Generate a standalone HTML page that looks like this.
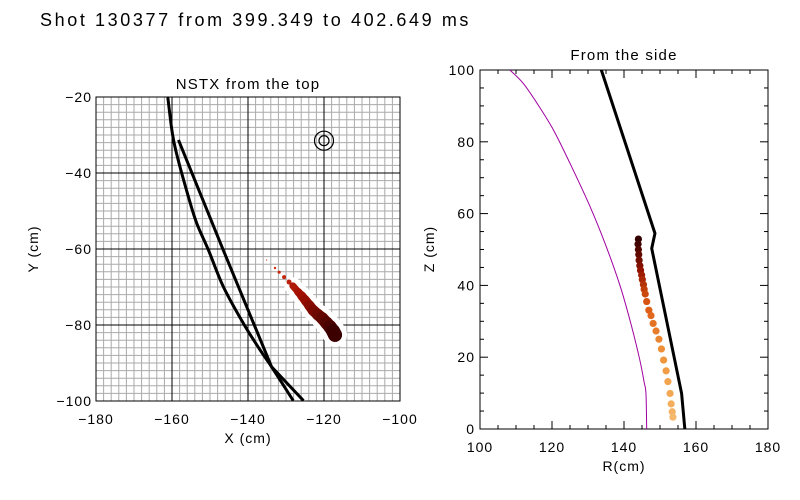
<!DOCTYPE html>
<html><head><meta charset="utf-8"><style>
body{margin:0;background:#fff;}
svg{display:block;font-family:"Liberation Sans",sans-serif;}
</style></head><body>
<svg id="c" width="800" height="500" viewBox="0 0 800 500" xmlns="http://www.w3.org/2000/svg">
<text x="40" y="26" font-size="18" letter-spacing="2.6" fill="#000">Shot 130377 from 399.349 to 402.649 ms</text>
<text x="248" y="89" font-size="15" letter-spacing="1.2" text-anchor="middle">NSTX from the top</text>
<text x="624" y="60" font-size="15" letter-spacing="1.2" text-anchor="middle">From the side</text>
<text x="248" y="443" font-size="14" letter-spacing="1" text-anchor="middle">X (cm)</text>
<text transform="translate(38,249) rotate(-90)" font-size="14" letter-spacing="1" text-anchor="middle">Y (cm)</text>
<text x="624" y="471" font-size="14" letter-spacing="1" text-anchor="middle">R(cm)</text>
<text transform="translate(434,249) rotate(-90)" font-size="14" letter-spacing="1" text-anchor="middle">Z (cm)</text>
<g id="left"></g><g id="right"></g>
</svg>
<script>
// ---- top view data ----
const topXTicks=[-180,-160,-140,-120,-100];
const topYTicks=[-20,-40,-60,-80,-100];
const wallOuterX=[-161.1,-159.9,-158.6,-155.7,-153.5,-150.4,-146.5,-141.2,-136.8,-133.8,-128.1];
const wallOuterY=[-20.1,-29.6,-35.7,-46.2,-53.2,-60.3,-69.9,-79.6,-86.6,-91,-99.9];
const wallInnerX=[-158.3,-146.5,-133.8,-125.4];
const wallInnerY=[-31.3,-60.3,-91,-99.9];
const targetX=[-120];
const targetY=[-31.5];
const blobX=[-135.1,-132.9,-131.8,-130.5,-129.2,-128.2,-126.8,-125.9,-125.0,-123.9,-122.9,-121.7,-120.5,-119.4,-118.4,-117.6,-117.1];
const blobY=[-62.9,-65.0,-66.1,-67.4,-68.7,-69.7,-71.3,-72.3,-73.4,-74.8,-76.1,-77.2,-78.2,-79.4,-80.5,-81.6,-82.6];
const blobR=[0.6,1.2,1.6,2,2.5,3,3.5,4,4.5,4.8,5.2,5.5,5.8,6.1,6.4,6.7,7];
// ---- side view data ----
const sideRTicks=[100,120,140,160,180];
const sideZTicks=[0,20,40,60,80,100];
const coilR=[133.7,148.6,147.7,153.7,156.0,156.9];
const coilZ=[100,54.5,50.3,21.1,9.9,0];
const sepR=[108.3,112,116,120.4,125,130.6,135,139,142,144.4,145.6,146.1,146.3];
const sepZ=[100,96.3,90.5,83.3,74,61.9,51,39.6,29,19.2,13,9.9,0];
const dotR=[144.0,143.9,144.0,144.1,144.2,144.4,144.6,144.9,145.1,145.4,145.6,145.9,146.3,146.9,147.5,148.1,148.9,149.7,150.4,151.0,151.7,152.2,152.8,153.1,153.4,153.6];
const dotZ=[52.9,51.5,50.0,48.6,47.0,45.5,44.2,42.9,41.6,40.2,38.9,37.6,35.5,33.1,31.6,29.4,27.3,25.0,22.3,19.2,16.2,13.2,9.9,7.0,4.8,3.3];

const NS='http://www.w3.org/2000/svg';
function mk(tag,attrs,parent){const e=document.createElementNS(NS,tag);for(const k in attrs)e.setAttribute(k,attrs[k]);parent.appendChild(e);return e;}
function lerpC(a,b,t){return 'rgb('+a.map((v,i)=>Math.round(v+(b[i]-v)*t)).join(',')+')';}
function fmt(v){return String(v).replace('-','\u2212');}
function smooth(pts){let d='M'+pts[0][0]+','+pts[0][1];for(let i=0;i<pts.length-1;i++){const p0=pts[i-1]||pts[i],p1=pts[i],p2=pts[i+1],p3=pts[i+2]||p2;
d+=' C'+(p1[0]+(p2[0]-p0[0])/6)+','+(p1[1]+(p2[1]-p0[1])/6)+' '+(p2[0]-(p3[0]-p1[0])/6)+','+(p2[1]-(p3[1]-p1[1])/6)+' '+p2[0]+','+p2[1];}return d;}

// top view
const L=document.getElementById('left');
const lx=v=>96+(v+180)*3.8, ly=v=>97+(-20-v)*3.8;
for(let v=-180;v<=-100;v+=2){const l=mk('line',{x1:lx(v),x2:lx(v),y1:97,y2:401,stroke:'#aaa','stroke-width':1},L);

}
for(let v=-100;v<=-20;v+=2){const l=mk('line',{x1:96,x2:400,y1:ly(v),y2:ly(v),stroke:'#aaa','stroke-width':1},L);

}
topXTicks.forEach(v=>{const l=mk('line',{x1:lx(v),x2:lx(v),y1:97,y2:401,stroke:'#000','stroke-width':1},L);


const t=mk('text',{x:lx(v),y:424,'font-size':14,'letter-spacing':1,'text-anchor':'middle'},L);t.textContent=fmt(v);

});
topYTicks.forEach(v=>{const l=mk('line',{x1:96,x2:400,y1:ly(v),y2:ly(v),stroke:'#000','stroke-width':1},L);


const t=mk('text',{x:92,y:ly(v)+5,'font-size':14,'letter-spacing':1,'text-anchor':'end'},L);t.textContent=fmt(v);

});
const fr=mk('rect',{x:96,y:97,width:304,height:304,fill:'none',stroke:'#000','stroke-width':1},L);


const w1=mk('path',{d:smooth(wallOuterX.map((x,i)=>[lx(x),ly(wallOuterY[i])])),fill:'none',stroke:'#000','stroke-width':3},L);


const w2=mk('polyline',{points:wallInnerX.map((x,i)=>lx(x)+','+ly(wallInnerY[i])).join(' '),fill:'none',stroke:'#000','stroke-width':3},L);


targetX.forEach((x,i)=>{[9.5,5].forEach(r=>{const c=mk('circle',{cx:lx(x),cy:ly(targetY[i]),r:r,fill:'none',stroke:'#000','stroke-width':1.2},L);

});});
const bstops=[[215,50,25],[160,15,0],[60,0,0]];
for(let i=1;i<blobX.length;i++){if(blobR[i-1]<3)continue;
const s=mk('line',{x1:lx(blobX[i-1]),y1:ly(blobY[i-1]),x2:lx(blobX[i]),y2:ly(blobY[i]),stroke:'#fff','stroke-width':2*blobR[i]+10,'stroke-linecap':'round'},L);

}
for(let i=0;i<blobX.length;i++){const t=i/(blobX.length-1)*2;const k=Math.min(Math.floor(t),1);
const col=lerpC(bstops[k],bstops[k+1],t-k);
if(i>0&&blobR[i-1]>=3){const s=mk('line',{x1:lx(blobX[i-1]),y1:ly(blobY[i-1]),x2:lx(blobX[i]),y2:ly(blobY[i]),stroke:col,'stroke-width':2*blobR[i],'stroke-linecap':'round'},L);

}
const c=mk('circle',{cx:lx(blobX[i]),cy:ly(blobY[i]),r:blobR[i],fill:col},L);

}

// side view
const R=document.getElementById('right');
const rx=v=>480+(v-100)*3.6, rz=v=>429-v*3.59;
for(let v=100;v<=180;v+=5){const mj=v%20===0,len=mj?8:4;
const a=mk('line',{x1:rx(v),x2:rx(v),y1:429,y2:429-len,stroke:'#000'},R);


const b=mk('line',{x1:rx(v),x2:rx(v),y1:70,y2:70+len,stroke:'#000'},R);

}
for(let v=0;v<=100;v+=5){const mj=v%20===0,len=mj?8:4;
const a=mk('line',{x1:480,x2:480+len,y1:rz(v),y2:rz(v),stroke:'#000'},R);


const b=mk('line',{x1:768,x2:768-len,y1:rz(v),y2:rz(v),stroke:'#000'},R);

}
sideRTicks.forEach(v=>{const t=mk('text',{x:rx(v),y:452,'font-size':14,'letter-spacing':1,'text-anchor':'middle'},R);t.textContent=v;

});
sideZTicks.forEach(v=>{const t=mk('text',{x:475,y:rz(v)+5,'font-size':14,'letter-spacing':1,'text-anchor':'end'},R);t.textContent=v;

});
const fr2=mk('rect',{x:480,y:70,width:288,height:359,fill:'none',stroke:'#000','stroke-width':1},R);


const sp=mk('path',{d:smooth(sepR.map((r,i)=>[rx(r),rz(sepZ[i])])),fill:'none',stroke:'#a000a0','stroke-width':1},R);


const cl=mk('polyline',{points:coilR.map((r,i)=>rx(r)+','+rz(coilZ[i])).join(' '),fill:'none',stroke:'#000','stroke-width':3},R);


const stops=[[50,0,0],[150,20,0],[220,90,20],[240,150,60],[245,185,110]];
for(let i=0;i<dotR.length;i++){const t=i/(dotR.length-1)*(stops.length-1);const k=Math.min(Math.floor(t),stops.length-2);
const col=lerpC(stops[k],stops[k+1],t-k);
const c=mk('circle',{cx:rx(dotR[i]),cy:rz(dotZ[i]),r:3.6,fill:col},R);

}
</script>
</body></html>
